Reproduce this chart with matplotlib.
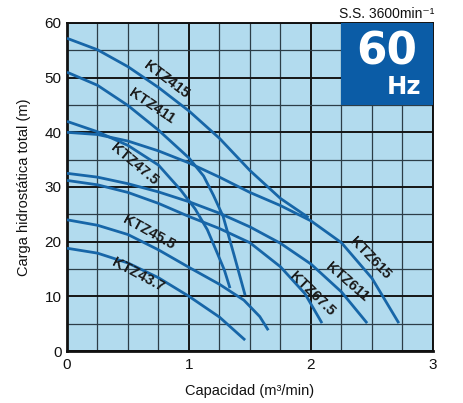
#!/usr/bin/env python3
"""Pump performance curves, KTZ series at 60 Hz (head vs capacity)."""
import math

import matplotlib

matplotlib.use("Agg")
import matplotlib.pyplot as plt
from matplotlib.patches import Rectangle

# curves: capacity [m3/min] -> total head [m]
ktz415_q = [0, 0.25, 0.5, 0.75, 1.0, 1.25, 1.5, 1.75, 1.98]
ktz415_h = [57.2, 55.1, 52.0, 48.2, 43.9, 38.9, 33.0, 27.9, 24.4]
ktz411_q = [0, 0.25, 0.5, 0.75, 1.0, 1.12, 1.2, 1.28, 1.37, 1.46]
ktz411_h = [51.0, 48.6, 44.9, 40.4, 35.3, 32.0, 28.5, 24.6, 17.5, 10.2]
ktz47_5_q = [0, 0.25, 0.5, 0.75, 0.93, 1.05, 1.15, 1.23, 1.29, 1.336]
ktz47_5_h = [42.0, 40.1, 37.6, 34.0, 29.5, 26.0, 22.2, 18.0, 14.8, 11.5]
ktz615_q = [0, 0.25, 0.5, 0.75, 1.0, 1.25, 1.5, 1.75, 2.0, 2.25, 2.5, 2.72]
ktz615_h = [40.0, 39.6, 38.4, 36.6, 34.4, 31.8, 29.0, 26.6, 23.8, 19.8, 13.3, 5.1]
ktz611_q = [0, 0.25, 0.5, 0.75, 1.0, 1.25, 1.5, 1.75, 2.0, 2.25, 2.46]
ktz611_h = [32.5, 31.8, 30.6, 29.1, 27.3, 25.2, 22.7, 19.7, 15.9, 10.8, 5.1]
ktz67_5_q = [0, 0.25, 0.5, 0.75, 1.0, 1.25, 1.5, 1.75, 1.95, 2.09]
ktz67_5_h = [31.2, 30.4, 29.0, 27.0, 24.6, 22.4, 19.8, 15.4, 10.5, 5.1]
ktz45_5_q = [0, 0.25, 0.5, 0.75, 1.0, 1.25, 1.45, 1.58, 1.65]
ktz45_5_h = [24.0, 23.0, 21.3, 18.5, 15.3, 12.2, 9.3, 6.3, 3.8]
ktz43_7_q = [0, 0.25, 0.5, 0.75, 1.0, 1.25, 1.46]
ktz43_7_h = [18.8, 17.9, 16.1, 13.4, 10.0, 6.2, 2.0]

curves = [
    (ktz415_q, ktz415_h),
    (ktz411_q, ktz411_h),
    (ktz47_5_q, ktz47_5_h),
    (ktz615_q, ktz615_h),
    (ktz611_q, ktz611_h),
    (ktz67_5_q, ktz67_5_h),
    (ktz45_5_q, ktz45_5_h),
    (ktz43_7_q, ktz43_7_h),
]

# model labels: text, position (data), angle (deg on screen)
label_text = ["KTZ415", "KTZ411", "KTZ47.5", "KTZ45.5", "KTZ43.7",
              "KTZ615", "KTZ611", "KTZ67.5"]
label_q = [0.79, 0.67, 0.53, 0.65, 0.56, 2.46, 2.27, 1.98]
label_h = [49.0, 44.0, 33.4, 21.0, 13.1, 16.4, 11.9, 9.8]
label_rot = [-37, -34, -40, -29, -28, -46, -41, -44]

x_ticks = [0, 1, 2, 3]
y_ticks = [0, 10, 20, 30, 40, 50, 60]

LINE = "#1766a8"
BG = "#b2dbee"
BOX = "#0b5ca6"
FONT = ["Liberation Sans", "DejaVu Sans"]


def main() -> None:
    plt.rcParams["font.family"] = FONT
    fig = plt.figure(figsize=(4.63, 4.03), dpi=100)
    ax = fig.add_axes([0.1447, 0.129, 0.7905, 0.814])
    ax.set_facecolor(BG)
    ax.set_xlim(0, 3)
    ax.set_ylim(0, 60)

    ax.set_xticks(x_ticks)
    ax.set_yticks(y_ticks)
    ax.set_xticks([i * 0.25 for i in range(13)], minor=True)
    ax.set_yticks([i * 5 for i in range(13)], minor=True)
    ax.tick_params(which="both", length=0, labelsize=11, colors="#111")
    ax.tick_params(axis="x", pad=5)
    ax.tick_params(axis="y", pad=4)
    ax.grid(which="minor", color="#2c3d47", lw=0.9)
    ax.grid(which="major", color="#151515", lw=1.4)
    ax.set_axisbelow(True)
    for s in ax.spines.values():
        s.set_color("#111")
        s.set_linewidth(1.4)
    ax.spines["left"].set_linewidth(2)
    ax.spines["bottom"].set_linewidth(2)

    for q, h in curves:
        ax.plot(q, h, color=LINE, lw=2.0, solid_capstyle="butt", zorder=3)

    # labels sit just above their curve: nudge along the text normal
    for t, q, h, r in zip(label_text, label_q, label_h, label_rot):
        a = math.radians(r)
        off = (-math.sin(a) * 3.5, math.cos(a) * 3.5)
        ax.annotate(t, (q, h), xytext=off, textcoords="offset points",
                    rotation=r, rotation_mode="anchor", ha="center",
                    va="center", fontsize=10.5, fontweight="bold",
                    color="#1a1a1a", zorder=4)

    # 60 Hz badge in the top right corner
    ax.add_patch(Rectangle((2.25, 45), 0.75, 15, facecolor=BOX,
                           edgecolor="none", zorder=5))
    ax.text(2.625, 54.7, "60", ha="center", va="center", fontsize=31.5,
            fontweight="bold", family="DejaVu Sans", color="white", zorder=6)
    ax.text(2.76, 48.2, "Hz", ha="center", va="center", fontsize=17.5,
            fontweight="bold", family="DejaVu Sans", color="white", zorder=6)

    fig.text(434 / 463, 1 - 18 / 403, "S.S. 3600min⁻¹", ha="right",
             va="baseline", fontsize=10, color="#111")

    ax.set_xlabel("Capacidad (m³/min)", fontsize=10.5, labelpad=9,
                  color="#111")
    ax.set_ylabel("Carga hidrostática total (m)", fontsize=10.5,
                  labelpad=10, color="#111")

    fig.savefig("out.png", dpi=100, facecolor="white")


if __name__ == "__main__":
    main()
